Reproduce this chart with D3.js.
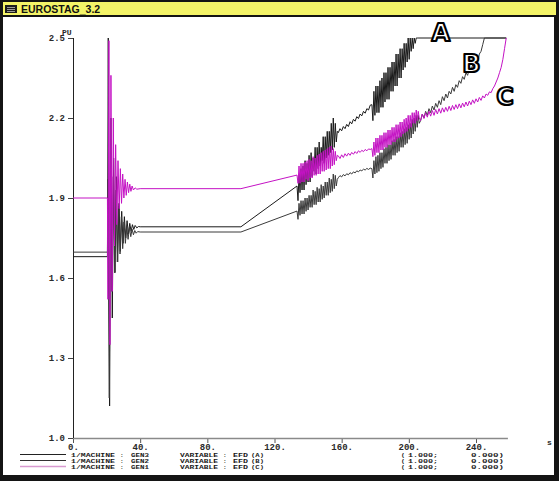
<!DOCTYPE html>
<html>
<head>
<meta charset="utf-8">
<script src="https://cdn.jsdelivr.net/npm/d3@7"></script>
<style>
  html, body { margin: 0; padding: 0; background: #fff; }
  svg { display: block; }
  .tick-label { font-family: "Liberation Mono", "DejaVu Sans Mono", monospace; font-weight: bold; fill: #2a2a2a; }
</style>
</head>
<body>
<svg id="chart" width="559" height="481"></svg>
<script>
// ---- axis ticks ----
const xTicks = [0, 40, 80, 120, 160, 200, 240];
const xTickLabels = ["0.", "40.", "80.", "120.", "160.", "200.", "240."];
const yTicks = [1.0, 1.3, 1.6, 1.9, 2.2, 2.5];
const yTickLabels = ["1.0", "1.3", "1.6", "1.9", "2.2", "2.5"];

// ---- legend ----
const legendMachines = ["GEN3", "GEN2", "GEN1"];
const legendKeys = ["(A)", "(B)", "(C)"];
const legendGain = ["1.000", "1.000", "1.000"];
const legendOffset = ["0.000", "0.000", "0.000"];

// ---- GEN3, EFD (A) ----
const gen3Steady = [[0, 1.68], [20.5, 1.68]];
const gen3Swing = [[20.6, 1.78], [21.0, 2.5], [21.8, 1.12], [22.6, 2.2], [23.4, 1.45], [24.2, 2.05], [25.0, 1.62],
  [25.8, 1.98], [26.6, 1.66], [27.4, 1.88], [28.2, 1.70], [29.0, 1.85], [29.8, 1.73], [30.6, 1.83], [31.4, 1.75],
  [32.2, 1.815], [33.0, 1.765], [33.8, 1.805], [34.6, 1.775], [35.4, 1.80], [36.2, 1.782], [37.0, 1.797],
  [38.0, 1.788], [39.0, 1.793]];
const gen3Ramp = [[40, 1.792], [100, 1.792], [133.4, 1.945]];
// samples every 0.6 s from 133.4 s
const gen3Band1 = [1.945, 1.89, 1.99, 1.92, 2.01, 1.93, 2.02, 1.93, 2.04, 1.95, 2.03, 1.96, 2.06, 1.96, 2.07, 1.98,
  2.05, 2.00, 2.09, 1.99, 2.09, 2.01, 2.11, 2.02, 2.09, 2.04, 2.13, 2.03, 2.13, 2.05, 2.15, 2.06, 2.15, 2.07, 2.18,
  2.08, 2.20, 2.09, 2.18, 2.11, 2.15];
// samples every 1 s from 158 s
const gen3Drift = [2.145, 2.16, 2.152, 2.168, 2.16, 2.176, 2.168, 2.186, 2.178, 2.195, 2.188, 2.205, 2.198, 2.215,
  2.208, 2.225, 2.218, 2.235, 2.23, 2.248];
// samples every 0.6 s from 178 s
const gen3Band2 = [2.25, 2.19, 2.30, 2.21, 2.32, 2.22, 2.32, 2.22, 2.34, 2.24, 2.35, 2.24, 2.37, 2.26, 2.37, 2.27,
  2.39, 2.27, 2.39, 2.30, 2.41, 2.30, 2.41, 2.32, 2.44, 2.32, 2.44, 2.35, 2.46, 2.35, 2.46, 2.38, 2.48, 2.39, 2.48,
  2.41, 2.50, 2.42, 2.50, 2.45, 2.50, 2.46, 2.50, 2.48, 2.50, 2.50];
const gen3Limit = [[205.5, 2.5], [258, 2.5]];

// ---- GEN2, EFD (B) ----
const gen2Steady = [[0, 1.697], [20.5, 1.697]];
const gen2Swing = [[20.7, 1.97], [21.6, 1.15], [22.4, 2.12], [23.2, 1.55], [24.0, 1.98], [24.8, 1.62], [25.6, 1.93],
  [26.4, 1.66], [27.2, 1.87], [28.0, 1.69], [28.8, 1.83], [29.6, 1.71], [30.4, 1.81], [31.2, 1.73], [32.0, 1.795],
  [32.8, 1.745], [33.6, 1.79], [34.4, 1.755], [35.2, 1.783], [36.0, 1.762], [36.8, 1.778], [37.6, 1.768],
  [38.5, 1.774]];
const gen2Ramp = [[40, 1.7725], [100, 1.7725], [133.4, 1.851]];
const gen2Band1 = [1.851, 1.82, 1.88, 1.835, 1.89, 1.84, 1.89, 1.84, 1.90, 1.85, 1.90, 1.855, 1.91, 1.865, 1.91,
  1.865, 1.93, 1.875, 1.925, 1.875, 1.94, 1.885, 1.935, 1.885, 1.95, 1.895, 1.945, 1.90, 1.96, 1.91, 1.96, 1.91,
  1.975, 1.92, 1.97, 1.925, 1.99, 1.935, 1.985, 1.945, 1.97];
const gen2Drift = [1.976, 1.984, 1.979, 1.988, 1.983, 1.991, 1.987, 1.995, 1.99, 1.998, 1.994, 2.002, 1.998, 2.005,
  2.002, 2.008, 2.005, 2.011, 2.007, 2.012];
const gen2Band2 = [2.01, 1.975, 2.04, 1.99, 2.055, 1.995, 2.06, 2.0, 2.07, 2.01, 2.07, 2.015, 2.085, 2.03, 2.09, 2.03,
  2.10, 2.04, 2.10, 2.045, 2.115, 2.06, 2.12, 2.06, 2.13, 2.07, 2.13, 2.075, 2.145, 2.09, 2.15, 2.09, 2.16, 2.10,
  2.165, 2.105, 2.175, 2.12, 2.18, 2.125, 2.195, 2.14, 2.20, 2.15, 2.21, 2.165, 2.21, 2.18];
// samples every 1 s from 207 s
const gen2Rise = [2.19, 2.215, 2.20, 2.225, 2.21, 2.235, 2.22, 2.245, 2.23, 2.255, 2.24, 2.265, 2.25, 2.28, 2.265,
  2.29, 2.275, 2.30, 2.29, 2.315, 2.30, 2.325, 2.315, 2.34, 2.33, 2.355, 2.345, 2.37, 2.36, 2.385, 2.375, 2.40,
  2.39, 2.42, 2.41, 2.44, 2.45, 2.475, 2.50];
const gen2Limit = [[245.5, 2.5], [258, 2.5]];

// ---- GEN1, EFD (C) ----
const gen1Steady = [[0, 1.9], [20.5, 1.9]];
const gen1Swing = [[20.8, 1.52], [21.4, 2.49], [22.0, 1.35], [22.6, 2.36], [23.3, 1.55], [24.0, 2.2], [24.7, 1.72],
  [25.4, 2.1], [26.1, 1.8], [26.8, 2.04], [27.5, 1.86], [28.2, 2.01], [28.9, 1.88], [29.6, 1.99], [30.3, 1.9],
  [31.0, 1.97], [31.7, 1.91], [32.4, 1.96], [33.1, 1.92], [33.8, 1.952], [34.5, 1.925], [35.2, 1.945],
  [36.0, 1.93], [37.0, 1.938], [38.0, 1.933]];
const gen1Ramp = [[40, 1.935], [100, 1.935], [133.4, 1.986]];
const gen1Band1 = [1.986, 1.955, 2.02, 1.955, 2.03, 1.96, 2.03, 1.96, 2.035, 1.97, 2.04, 1.965, 2.045, 1.975, 2.04,
  1.975, 2.055, 1.985, 2.05, 1.985, 2.06, 1.99, 2.065, 1.99, 2.07, 2.0, 2.075, 2.0, 2.08, 2.005, 2.085, 2.01, 2.09,
  2.01, 2.095, 2.02, 2.085, 2.025, 2.075, 2.04, 2.06];
const gen1Drift = [2.058, 2.048, 2.062, 2.052, 2.066, 2.057, 2.068, 2.06, 2.071, 2.064, 2.074, 2.067, 2.077, 2.071,
  2.079, 2.074, 2.082, 2.077, 2.084, 2.082];
const gen1Band2 = [2.085, 2.055, 2.11, 2.06, 2.125, 2.07, 2.125, 2.07, 2.135, 2.08, 2.135, 2.08, 2.145, 2.09, 2.145,
  2.09, 2.155, 2.10, 2.155, 2.10, 2.165, 2.11, 2.165, 2.11, 2.175, 2.12, 2.175, 2.125, 2.185, 2.13, 2.185, 2.14,
  2.195, 2.145, 2.20, 2.15, 2.21, 2.16, 2.21, 2.165, 2.22, 2.18, 2.22, 2.18, 2.23, 2.19, 2.225, 2.20];
const gen1Rise = [2.19, 2.215, 2.198, 2.22, 2.203, 2.225, 2.207, 2.228, 2.21, 2.232, 2.215, 2.235, 2.218, 2.238,
  2.222, 2.24, 2.225, 2.244, 2.228, 2.247, 2.232, 2.25, 2.235, 2.253, 2.238, 2.256, 2.242, 2.26, 2.245, 2.263,
  2.25, 2.268, 2.255, 2.272, 2.26, 2.277, 2.266, 2.283, 2.275, 2.29, 2.285, 2.298, 2.295, 2.31, 2.32, 2.335, 2.35,
  2.37, 2.39, 2.42, 2.46, 2.5];

// turn an evenly sampled block into [t, v] pairs
function sampled(t0, dt, values) {
  return values.map((v, i) => [t0 + i * dt, v]);
}

const gen3 = [].concat(gen3Steady, gen3Swing, gen3Ramp, sampled(133.4, 0.6, gen3Band1),
  sampled(158, 1, gen3Drift), sampled(178, 0.6, gen3Band2), gen3Limit);
const gen2 = [].concat(gen2Steady, gen2Swing, gen2Ramp, sampled(133.4, 0.6, gen2Band1),
  sampled(158, 1, gen2Drift), sampled(178, 0.6, gen2Band2), sampled(207, 1, gen2Rise), gen2Limit);
const gen1 = [].concat(gen1Steady, gen1Swing, gen1Ramp, sampled(133.4, 0.6, gen1Band1),
  sampled(158, 1, gen1Drift), sampled(178, 0.6, gen1Band2), sampled(207, 1, gen1Rise));

// curve letters placed at [time, PU] of their lower-left corner
const calloutAt = [[213.5, 2.49], [231.8, 2.372], [252.0, 2.249]];

const series = [
  { name: "A", data: gen3, color: "#1a1a1a", legendColor: "#222" },
  { name: "B", data: gen2, color: "#3a3a3a", legendColor: "#333" },
  { name: "C", data: gen1, color: "#c412c4", legendColor: "#d89ad0" }
];

const svg = d3.select("#chart");
const W = 559, H = 481;

// ---- window frame ----
svg.append("rect").attr("x", 0).attr("y", 0).attr("width", W).attr("height", H).attr("fill", "#141414");
svg.append("rect").attr("x", 3).attr("y", 17).attr("width", W - 8).attr("height", H - 23).attr("fill", "#fff");
svg.append("rect").attr("x", 3).attr("y", 2).attr("width", W - 6).attr("height", 13).attr("fill", "#f4f468");
// title icon
svg.append("rect").attr("x", 5).attr("y", 5).attr("width", 12).attr("height", 8).attr("fill", "#1c1c1c");
[7, 9, 11].forEach(yy => svg.append("line").attr("x1", 7).attr("x2", 15).attr("y1", yy + 0.5).attr("y2", yy + 0.5)
  .attr("stroke", "#9a9a9a").attr("stroke-width", 1));
svg.append("text").attr("x", 21).attr("y", 13).text("EUROSTAG_3.2")
  .attr("font-family", "Liberation Sans, Arial, sans-serif").attr("font-weight", "bold")
  .attr("font-size", 10.5).attr("fill", "#111");

// ---- scales ----
const x = d3.scaleLinear().domain([0, 240]).range([73, 476]);
const y = d3.scaleLinear().domain([1.0, 2.5]).range([438, 38]);

// ---- axes ----
const gx = svg.append("g").attr("transform", "translate(0,438)")
  .call(d3.axisBottom(x).tickValues(xTicks).tickSize(5).tickPadding(-1)
    .tickFormat((d, i) => xTickLabels[i]));
gx.select(".domain").remove();
gx.selectAll(".tick line").attr("stroke", "#555");
gx.selectAll(".tick text").attr("class", "tick-label").attr("font-size", 9).attr("dy", "0.9em");
svg.append("line").attr("x1", x(0)).attr("x2", x(259)).attr("y1", 438.5).attr("y2", 438.5)
  .attr("stroke", "#8a8a8a").attr("stroke-width", 1.6);

const gy = svg.append("g").attr("transform", "translate(73,0)")
  .call(d3.axisLeft(y).tickValues(yTicks).tickSize(5).tickPadding(3)
    .tickFormat((d, i) => yTickLabels[i]));
gy.select(".domain").remove();
gy.selectAll(".tick line").attr("stroke", "#444");
gy.selectAll(".tick text").attr("class", "tick-label").attr("font-size", 9);
svg.append("line").attr("x1", 73.5).attr("x2", 73.5).attr("y1", y(2.5)).attr("y2", y(1.0))
  .attr("stroke", "#222").attr("stroke-width", 1);

svg.append("text").attr("class", "tick-label").attr("x", 62).attr("y", 35).attr("font-size", 8).text("PU");
svg.append("text").attr("class", "tick-label").attr("x", 547).attr("y", 445).attr("font-size", 8).text("s");

// ---- curves ----
const line = d3.line().x(d => x(d[0])).y(d => y(d[1]));
const plot = svg.append("g");
series.forEach(s => {
  plot.append("path").datum(s.data).attr("d", line)
    .attr("fill", "none").attr("stroke", s.color).attr("stroke-width", 1)
    .attr("stroke-linejoin", "miter");
});

// ---- curve letters (outlined) ----
series.forEach((s, i) => {
  svg.append("text").attr("x", x(calloutAt[i][0])).attr("y", y(calloutAt[i][1]))
    .text(s.name)
    .attr("font-family", "DejaVu Sans, Arial, sans-serif").attr("font-weight", "bold")
    .attr("font-size", 24).attr("fill", "#fff").attr("stroke", "#000").attr("stroke-width", 2.2)
    .attr("stroke-linejoin", "round");
});

// ---- legend ----
const legendRows = [456, 462, 468];
series.forEach((s, i) => {
  const ly = legendRows[i];
  svg.append("line").attr("x1", 20).attr("x2", 66).attr("y1", ly - 1.5).attr("y2", ly - 1.5)
    .attr("stroke", s.legendColor).attr("stroke-width", i === 2 ? 1.5 : 1);
  const row = svg.append("g");
  const put = (tx, txt, len) => {
    const t = row.append("text").attr("x", tx).attr("y", ly + 1).text(txt)
      .attr("font-family", "Liberation Mono, DejaVu Sans Mono, monospace")
      .attr("font-weight", "bold").attr("font-size", 6.2).attr("fill", "#1a1a1a");
    if (len) t.attr("textLength", len).attr("lengthAdjust", "spacingAndGlyphs");
  };
  put(71, "1/MACHINE", 44);
  put(120, ":");
  put(131, legendMachines[i], 18);
  put(180, "VARIABLE", 38);
  put(223, ":");
  put(233, "EFD", 15);
  put(251, legendKeys[i], 13);
  put(401, "(", 4);
  put(408, legendGain[i] + ";", 30);
  put(471, legendOffset[i] + ")", 33);
});
</script>
</body>
</html>
